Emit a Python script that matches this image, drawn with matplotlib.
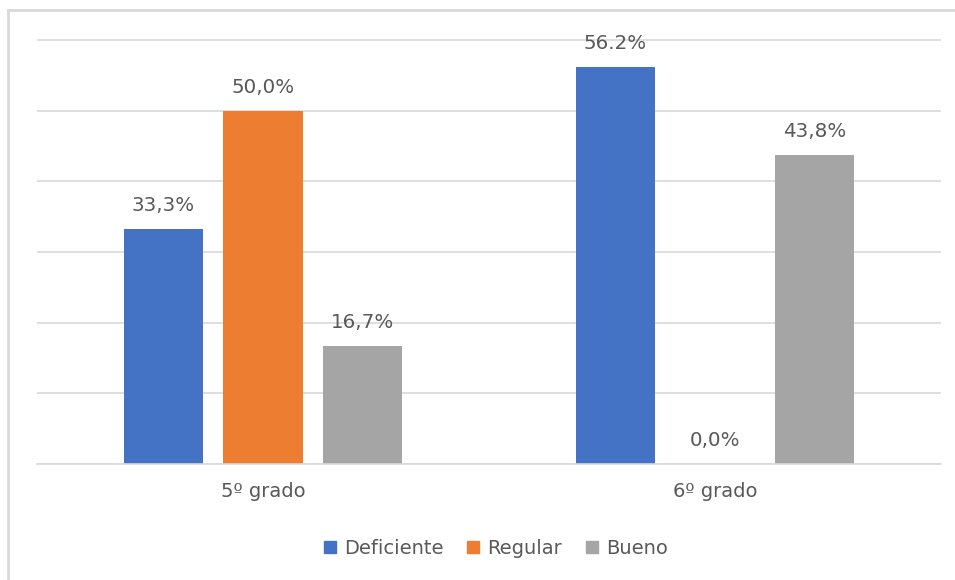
import matplotlib.pyplot as plt
import numpy as np
from matplotlib.lines import Line2D

categories = ["5º grado", "6º grado"]
series = ["Deficiente", "Regular", "Bueno"]
deficiente = [33.3, 56.2]
regular = [50.0, 0.0]
bueno = [16.7, 43.8]
labels_deficiente = ["33,3%", "56.2%"]
labels_regular = ["50,0%", "0,0%"]
labels_bueno = ["16,7%", "43,8%"]

colors = ["#4472C4", "#ED7D31", "#A5A5A5"]
text_color = "#595959"

plt.rcParams["font.family"] = ["DejaVu Sans"]

fig = plt.figure(figsize=(9.55, 5.8), dpi=100)
ax = fig.add_axes([37 / 955, 1 - 464 / 580, 904 / 955, 426 / 580])

x = np.arange(len(categories))
width = 0.175
step = 0.221
values = [deficiente, regular, bueno]
labels = [labels_deficiente, labels_regular, labels_bueno]
for i, (vals, labs) in enumerate(zip(values, labels)):
    pos = x + (i - 1) * step
    ax.bar(pos, vals, width, color=colors[i], label=series[i], zorder=2)
    for px, v, lab in zip(pos, vals, labs):
        ax.annotate(lab, (px, v), xytext=(0, 10), textcoords="offset points",
                    ha="center", va="bottom", fontsize=14.3, color=text_color)

ax.set_xlim(-0.5, 1.5)
ax.set_ylim(0, 60.3)
ax.set_yticks(np.arange(0, 61, 10))
ax.yaxis.grid(True, color="#D9D9D9", linewidth=1.2, zorder=0)
ax.tick_params(axis="y", length=0, labelleft=False)
ax.tick_params(axis="x", length=0, pad=13, labelsize=14, labelcolor=text_color)
ax.set_xticks(x)
ax.set_xticklabels(categories)
for s in ["top", "right", "left"]:
    ax.spines[s].set_visible(False)
ax.spines["bottom"].set_color("#D9D9D9")
ax.spines["bottom"].set_linewidth(1.2)

handles = [Line2D([], [], marker="s", linestyle="", markersize=9,
                  markerfacecolor=c, markeredgecolor=c) for c in colors]
fig.legend(handles, series, loc="center", bbox_to_anchor=(494 / 955, 1 - 548 / 580),
           ncol=3, frameon=False, fontsize=14, labelcolor=text_color,
           handletextpad=0.25, columnspacing=1.0, handlelength=1.0)

# outer frame (top and left edges visible in the crop)
fig.add_artist(Line2D([8 / 955, 8 / 955], [0, 1 - 10 / 580], transform=fig.transFigure,
                      color="#D9D9D9", linewidth=2))
fig.add_artist(Line2D([8 / 955, 1], [1 - 10 / 580, 1 - 10 / 580], transform=fig.transFigure,
                      color="#D9D9D9", linewidth=2))

fig.savefig("out.png", dpi=100)
